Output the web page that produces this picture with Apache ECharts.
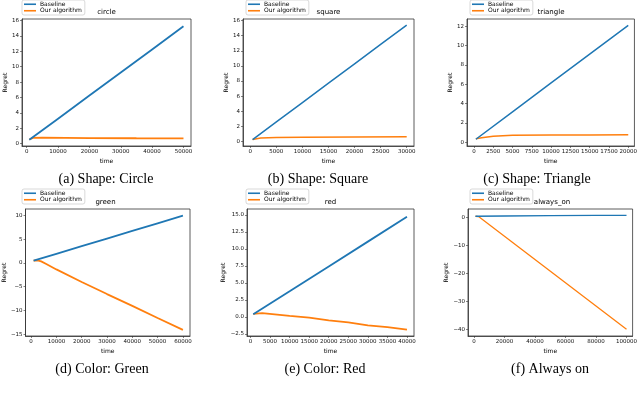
<!DOCTYPE html>
<html><head><meta charset="utf-8">
<script src="https://cdn.jsdelivr.net/npm/echarts@6/dist/echarts.min.js"></script>
<style>html,body{margin:0;padding:0;background:#fff}#c{width:640px;height:395px}</style>
</head><body><div id="c"></div>
<script>
// ---- data ----
const seriesNames = ['Baseline', 'Our algorithm'];
const panelTitles = ['circle', 'square', 'triangle', 'green', 'red', 'always_on'];
const captions = ['(a) Shape: Circle', '(b) Shape: Square', '(c) Shape: Triangle', '(d) Color: Green', '(e) Color: Red', '(f) Always on'];

const circleBaseline = [[830,0.5],[10000,3.25],[20000,6.25],[30000,9.25],[40000,12.25],[50000,15.25]];
const circleOurs = [[830,0.55],[2000,0.75],[5000,0.78],[20000,0.73],[35000,0.71],[50000,0.7]];
const squareBaseline = [[440,0.25],[5000,2.59],[10000,5.15],[15000,7.71],[20000,10.27],[25000,12.84],[30000,15.4]];
const squareOurs = [[440,0.25],[2000,0.45],[5000,0.52],[10000,0.56],[20000,0.6],[30000,0.62]];
const triangleBaseline = [[250,0.3],[5000,3.14],[10000,6.13],[15000,9.11],[20000,12.1]];
const triangleOurs = [[250,0.35],[1000,0.45],[2500,0.62],[5000,0.72],[10000,0.74],[15000,0.75],[20000,0.76]];
const greenBaseline = [[1000,0.5],[10000,1.95],[20000,3.56],[30000,5.17],[40000,6.78],[50000,8.39],[60000,10]];
const greenOurs = [[1000,0.5],[2500,0.58],[4000,0.35],[6000,-0.2],[10000,-1.35],[20000,-4.0],[30000,-6.55],[40000,-9.05],[50000,-11.6],[60000,-14.1]];
const redBaseline = [[700,0.4],[10000,3.78],[20000,7.42],[30000,11.06],[40000,14.7]];
const redOurs = [[700,0.45],[3000,0.55],[10000,0.15],[15000,-0.1],[20000,-0.5],[25000,-0.8],[30000,-1.25],[35000,-1.5],[40000,-1.85]];
const alwaysBaseline = [[1000,0.5],[20000,0.6],[50000,0.7],[80000,0.8],[100000,0.8]];
const alwaysOurs = [[1000,0.5],[3000,0.4],[100000,-40]];

// tick values
const circleXTicks = [0,10000,20000,30000,40000,50000];
const circleYTicks = [0,2,4,6,8,10,12,14,16];
const squareXTicks = [0,5000,10000,15000,20000,25000,30000];
const squareYTicks = [0,2,4,6,8,10,12,14,16];
const triangleXTicks = [0,2500,5000,7500,10000,12500,15000,17500,20000];
const triangleYTicks = [0,2,4,6,8,10,12];
const greenXTicks = [0,10000,20000,30000,40000,50000,60000];
const greenYTicks = [-15,-10,-5,0,5,10];
const redXTicks = [0,5000,10000,15000,20000,25000,30000,35000,40000];
const redYTicks = [-2.5,0,2.5,5,7.5,10,12.5,15];
const alwaysXTicks = [0,20000,40000,60000,80000,100000];
const alwaysYTicks = [-40,-30,-20,-10,0];

// ---- layout ----
const panels = [
  {b: circleBaseline, o: circleOurs, xt: circleXTicks, yt: circleYTicks, dec: 0,
   grid: {left: 22, top: 19, width: 169, height: 127}, xr: [-1500, 52400], yr: [-0.3, 16.2], lw: 1.8},
  {b: squareBaseline, o: squareOurs, xt: squareXTicks, yt: squareYTicks, dec: 0,
   grid: {left: 243, top: 19, width: 171, height: 127}, xr: [-1400, 31400], yr: [-0.6, 16.2], lw: 1.5},
  {b: triangleBaseline, o: triangleOurs, xt: triangleXTicks, yt: triangleYTicks, dec: 0,
   grid: {left: 467, top: 19, width: 168, height: 127}, xr: [-900, 20800], yr: [-0.4, 12.75], lw: 1.5},
  {b: greenBaseline, o: greenOurs, xt: greenXTicks, yt: greenYTicks, dec: 0,
   grid: {left: 21, top: 209, width: 169, height: 127}, xr: [-2200, 62800], yr: [-15.4, 11.4], lw: 1.8},
  {b: redBaseline, o: redOurs, xt: redXTicks, yt: redYTicks, dec: 1,
   grid: {left: 247, top: 209, width: 167, height: 127}, xr: [-900, 41800], yr: [-2.8, 15.85], lw: 1.8},
  {b: alwaysBaseline, o: alwaysOurs, xt: alwaysXTicks, yt: alwaysYTicks, dec: 0,
   grid: {left: 468, top: 209, width: 168, height: 127}, xr: [-3900, 104000], yr: [-42.4, 3.1], lw: 1.3}
];
const captionPos = [[106, 180], [318, 180], [537, 180], [102, 370], [325, 370], [550, 370]];
const legendPos = [[22, 0], [246, 0], [470, 0], [22, 189], [246, 189], [470, 189]];

const BLUE = '#1f77b4', ORANGE = '#ff7f0e', FONT = 'DejaVu Sans';
const fmt = (v, d) => (d ? v.toFixed(d) : String(Math.round(v))).replace('-', '\u2212');

const grids = [], xAxes = [], yAxes = [], series = [], titles = [], legends = [], texts = [];
panels.forEach((p, i) => {
  grids.push(Object.assign({show: true, borderColor: '#333', borderWidth: 0.8, backgroundColor: 'transparent'}, p.grid));
  xAxes.push({
    type: 'value', gridIndex: i, min: p.xr[0], max: p.xr[1],
    name: 'time', nameLocation: 'middle', nameGap: 12,
    nameTextStyle: {fontFamily: FONT, fontSize: 6, color: '#000'},
    axisLine: {show: true, onZero: false, lineStyle: {color: '#333', width: 0.8}},
    axisTick: {show: true, length: 2, lineStyle: {color: '#333', width: 0.6}, customValues: p.xt},
    axisLabel: {customValues: p.xt, fontFamily: FONT, fontSize: 5.5, color: '#111', margin: 3,
      formatter: v => fmt(v, 0)},
    splitLine: {show: false}
  });
  yAxes.push({
    type: 'value', gridIndex: i, min: p.yr[0], max: p.yr[1],
    name: 'Regret', nameLocation: 'middle', nameGap: (i === 3 || i === 5) ? 16 : (i === 4 ? 17 : 13), nameRotate: 90,
    nameTextStyle: {fontFamily: FONT, fontSize: 6, color: '#000'},
    axisLine: {show: true, onZero: false, lineStyle: {color: '#333', width: 0.8}},
    axisTick: {show: true, length: 2, lineStyle: {color: '#333', width: 0.6}, customValues: p.yt},
    axisLabel: {customValues: p.yt, fontFamily: FONT, fontSize: 5.5, color: '#111', margin: 3,
      formatter: v => fmt(v, p.dec)},
    splitLine: {show: false}
  });
  series.push({type: 'line', name: seriesNames[0], xAxisIndex: i, yAxisIndex: i, data: p.b,
    showSymbol: false, color: BLUE, lineStyle: {color: BLUE, width: p.lw}, z: 3});
  series.push({type: 'line', name: seriesNames[1], xAxisIndex: i, yAxisIndex: i, data: p.o,
    showSymbol: false, color: ORANGE, lineStyle: {color: ORANGE, width: p.lw}, z: 2});
  titles.push({text: panelTitles[i], left: p.grid.left + p.grid.width / 2, top: p.grid.top - 10,
    textAlign: 'center', padding: 0,
    textStyle: {fontFamily: FONT, fontSize: 7, fontWeight: 'normal', color: '#000'}});
  legends.push({
    data: seriesNames, orient: 'vertical', left: legendPos[i][0], top: legendPos[i][1],
    itemWidth: 12, itemHeight: 1.6, itemGap: 0, icon: 'rect',
    padding: [1, 3, 1, 2], borderColor: '#c8c8c8', borderWidth: 0.7, borderRadius: 2,
    backgroundColor: '#fff', selectedMode: false,
    textStyle: {fontFamily: FONT, fontSize: 6, color: '#000', lineHeight: 6.5, padding: [0, 0, 0, -1]}
  });
  texts.push({type: 'text', x: captionPos[i][0], y: captionPos[i][1] - 8,
    style: {text: captions[i], font: '14px "Liberation Serif"', fill: '#000', textAlign: 'center'}});
});

const chart = echarts.init(document.getElementById('c'), null, {renderer: 'canvas'});
chart.setOption({
  animation: false,
  backgroundColor: '#fff',
  title: titles,
  legend: legends,
  grid: grids,
  xAxis: xAxes,
  yAxis: yAxes,
  series: series,
  graphic: texts
});
</script></body></html>
